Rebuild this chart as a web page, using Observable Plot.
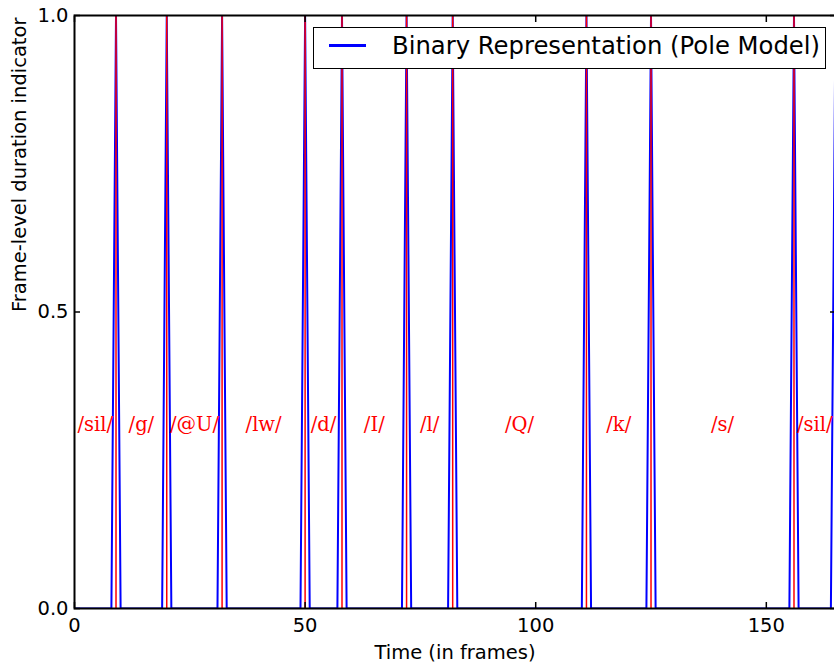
<!DOCTYPE html>
<html>
<head>
<meta charset="utf-8">
<script src="https://cdn.jsdelivr.net/npm/d3@7"></script>
<script src="https://cdn.jsdelivr.net/npm/@observablehq/plot@0.6"></script>
<style>
  html, body { margin: 0; padding: 0; background: #fff; overflow: hidden; }
  #wrap { position: relative; width: 834px; height: 671px; overflow: hidden; }
  #wrap svg { display: block; max-width: none !important; }
  .legend {
    position: absolute; left: 313px; top: 27px; width: 511px; height: 40px;
    border: 1.5px solid #000; background: #fff;
    font-family: "DejaVu Sans", sans-serif; font-size: 24.3px; color: #000;
  }
  .legend .swatch { position: absolute; left: 15px; top: 16px; width: 37px; height: 2.5px; background: #0000ff; }
  .legend .name { position: absolute; left: 78px; top: 4px; line-height: 28px; white-space: nowrap; }
</style>
</head>
<body>
<div id="wrap"></div>
<script>
// Phone boundaries (frame index where each phone ends) and the phone labels
const boundaries = [9, 20, 32, 50, 58, 72, 82, 111, 125, 156, 165];
const phones = ["/sil/", "/g/", "/@U/", "/lw/", "/d/", "/I/", "/l/", "/Q/", "/k/", "/s/", "/sil/"];
const xTicks = [0, 50, 100, 150];
const yTicks = [0, 0.5, 1];
const frameCount = 167;
const labelLevel = 0.31;

// Frame-level binary indicator: 1 on a boundary frame, 0 elsewhere
const indicator = d3.range(frameCount).map(t => ({t, v: boundaries.includes(t) ? 1 : 0}));

// One label per phone, centred on its segment
const segments = phones.map((phone, i) => {
  const start = i === 0 ? 0 : boundaries[i - 1];
  return {phone, mid: (start + boundaries[i]) / 2, level: labelLevel};
});

const chart = Plot.plot({
  width: 836,
  height: 671,
  marginLeft: 74,
  marginRight: 1,
  marginTop: 15,
  marginBottom: 63,
  x: {domain: [0, 165]},
  y: {domain: [0, 1]},
  style: {fontFamily: "DejaVu Sans", fontSize: "19.5px", background: "white", color: "black", maxWidth: "none"},
  marks: [
    Plot.line(indicator, {x: "t", y: "v", stroke: "#0000ff", strokeWidth: 2, clip: true}),
    Plot.ruleX(boundaries, {stroke: "#ff0000", strokeWidth: 1.5, clip: true}),
    Plot.text(segments, {
      x: "mid", y: "level", text: "phone", fill: "#ff0000",
      fontFamily: "DejaVu Serif", fontSize: 19.5, lineAnchor: "middle"
    }),
    Plot.frame({stroke: "black", strokeWidth: 2}),
    Plot.axisX({anchor: "bottom", ticks: xTicks, tickSize: -6, tickPadding: 16, strokeWidth: 1.5, label: null}),
    Plot.axisX({anchor: "top", ticks: xTicks, tickSize: -6, strokeWidth: 1.5, tickFormat: () => "", label: null}),
    Plot.axisY({anchor: "left", ticks: yTicks, tickSize: -6, tickPadding: 12, strokeWidth: 1.5, tickFormat: d3.format(".1f"), label: null}),
    Plot.axisY({anchor: "right", ticks: yTicks, tickSize: -6, strokeWidth: 1.5, tickFormat: () => "", label: null}),
    Plot.text(["Time (in frames)"], {frameAnchor: "bottom", dy: 50, lineAnchor: "bottom", fontSize: 19.5}),
    Plot.text(["Frame-level duration indicator"], {frameAnchor: "left", dx: -49, rotate: -90, lineAnchor: "bottom", fontSize: 19.5})
  ]
});

const wrap = document.getElementById("wrap");
wrap.appendChild(chart);

const legend = document.createElement("div");
legend.className = "legend";
legend.innerHTML = '<div class="swatch"></div><span class="name">Binary Representation (Pole Model)</span>';
wrap.appendChild(legend);
</script>
</body>
</html>
